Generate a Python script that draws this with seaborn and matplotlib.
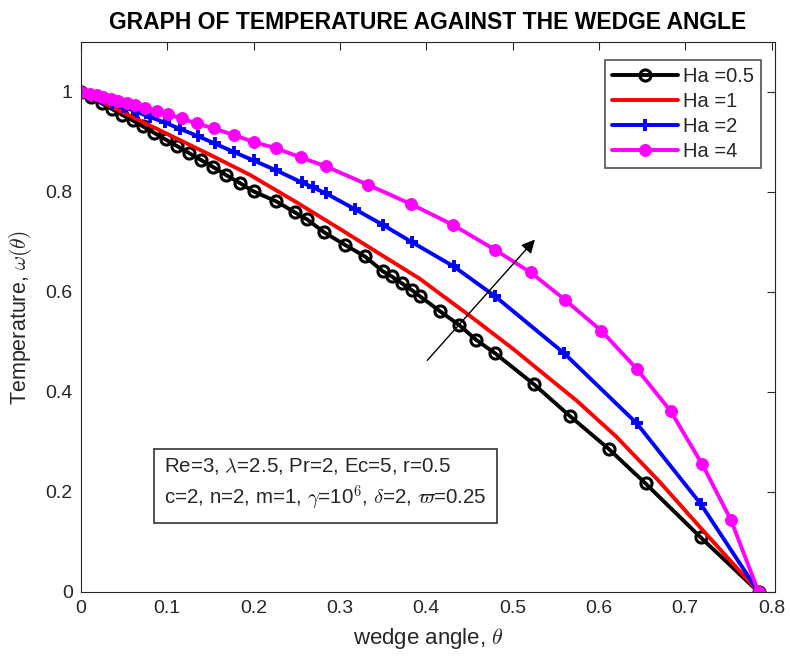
import matplotlib
matplotlib.use("Agg")
import matplotlib.pyplot as plt
import seaborn as sns

# values
theta_05 = [0, 0.012, 0.024, 0.036, 0.048, 0.060, 0.072, 0.085, 0.098, 0.111, 0.125,
            0.139, 0.153, 0.168, 0.184, 0.200, 0.2265, 0.248, 0.262, 0.282, 0.306,
            0.329, 0.350, 0.360, 0.372, 0.383, 0.393, 0.4155, 0.438, 0.458, 0.480,
            0.525, 0.567, 0.6115, 0.654, 0.718, 0.785]
temp_05 = [1.0, 0.989, 0.977, 0.966, 0.954, 0.943, 0.931, 0.918, 0.905, 0.892, 0.878,
           0.864, 0.850, 0.834, 0.818, 0.801, 0.781, 0.759, 0.745, 0.719, 0.694,
           0.671, 0.641, 0.631, 0.617, 0.604, 0.591, 0.562, 0.534, 0.504, 0.477,
           0.415, 0.351, 0.286, 0.217, 0.109, 0.0]

theta_1 = [0, 0.05, 0.10, 0.15, 0.196, 0.25, 0.30, 0.35, 0.392, 0.4155, 0.45, 0.50,
           0.554, 0.574, 0.62, 0.67, 0.718, 0.785]
temp_1 = [1.0, 0.958, 0.916, 0.874, 0.834, 0.779, 0.726, 0.672, 0.627, 0.597, 0.553,
          0.487, 0.411, 0.383, 0.311, 0.221, 0.128, 0.0]

theta_2 = [0, 0.012, 0.024, 0.036, 0.05, 0.065, 0.08, 0.097, 0.115, 0.135, 0.155,
           0.177, 0.200, 0.2265, 0.256, 0.269, 0.284, 0.318, 0.350, 0.383, 0.432,
           0.480, 0.560, 0.644, 0.718, 0.785]
temp_2 = [1.0, 0.993, 0.986, 0.978, 0.970, 0.960, 0.950, 0.939, 0.926, 0.912, 0.897,
          0.880, 0.863, 0.843, 0.819, 0.809, 0.797, 0.765, 0.734, 0.700, 0.651,
          0.591, 0.477, 0.337, 0.176, 0.0]

theta_4 = [0, 0.0104, 0.018, 0.026, 0.035, 0.043, 0.053, 0.0625, 0.074, 0.0876, 0.101,
           0.1165, 0.134, 0.154, 0.177, 0.200, 0.2265, 0.255, 0.284, 0.333, 0.382,
           0.431, 0.480, 0.521, 0.561, 0.603, 0.644, 0.683, 0.7195, 0.753, 0.785]
temp_4 = [1.0, 0.996, 0.993, 0.989, 0.985, 0.982, 0.977, 0.973, 0.968, 0.961, 0.955,
          0.947, 0.937, 0.927, 0.914, 0.900, 0.887, 0.869, 0.851, 0.814, 0.776,
          0.734, 0.684, 0.639, 0.584, 0.522, 0.446, 0.362, 0.256, 0.144, 0.0]

sns.set_style("white")
plt.rcParams['font.family'] = ['Liberation Sans', 'DejaVu Sans']
plt.rcParams['mathtext.fontset'] = 'cm'

fig = plt.figure(figsize=(7.9, 6.59), dpi=100)
ax = fig.add_axes([0.1025, 0.1017, 0.8785, 0.8346])

lw = 2.8
sns.lineplot(x=theta_05, y=temp_05, ax=ax, sort=False, color='black', lw=lw,
             marker='o', markersize=8, markerfacecolor='none', markeredgecolor='black',
             markeredgewidth=2.2, label='Ha =0.5')
sns.lineplot(x=theta_1, y=temp_1, ax=ax, sort=False, color='red', lw=lw, label='Ha =1')
sns.lineplot(x=theta_2, y=temp_2, ax=ax, sort=False, color='blue', lw=lw,
             marker='+', markersize=9, markeredgewidth=2.8, markeredgecolor='blue',
             label='Ha =2')
sns.lineplot(x=theta_4, y=temp_4, ax=ax, sort=False, color='magenta', lw=lw,
             marker='o', markersize=8.5, markeredgecolor='magenta', label='Ha =4')

# arrow showing increasing Ha
ax.annotate('', xy=(0.528, 0.709), xytext=(0.399, 0.459),
            arrowprops=dict(arrowstyle='-|>', color='black', lw=1.0,
                            mutation_scale=20))

ax.text(0.12, 0.248,
        r'Re=3, $\lambda$=2.5, Pr=2, Ec=5, r=0.5' + '\n' +
        r'c=2, n=2, m=1, $\gamma$=10$^6$, $\delta$=2, $\varpi$=0.25',
        transform=ax.transAxes, fontsize=14.8, va='top', ha='left', linespacing=1.4,
        color='#262626',
        bbox=dict(boxstyle='square,pad=0.5', facecolor='white', edgecolor='#333333', lw=1.2))

ax.set_xlim(0, 0.804)
ax.set_ylim(0, 1.1)
ax.set_xticks([0, 0.1, 0.2, 0.3, 0.4, 0.5, 0.6, 0.7, 0.8])
ax.set_xticklabels(['0', '0.1', '0.2', '0.3', '0.4', '0.5', '0.6', '0.7', '0.8'])
ax.set_yticks([0, 0.2, 0.4, 0.6, 0.8, 1])
ax.set_yticklabels(['0', '0.2', '0.4', '0.6', '0.8', '1'])
ax.tick_params(direction='in', top=True, right=True, length=6, width=0.8,
               labelsize=14, colors='#262626', pad=6)
for s in ax.spines.values():
    s.set_color('#262626')
    s.set_linewidth(0.8)

ax.set_xlabel(r'wedge angle, $\theta$', fontsize=16, color='#262626', labelpad=6)
ax.set_ylabel(r'Temperature, $\omega(\theta)$', fontsize=15.5, color='#262626', labelpad=8)
ax.set_title('GRAPH OF TEMPERATURE AGAINST THE WEDGE ANGLE', fontsize=16.5,
             fontweight='bold', pad=9, color='black')

leg = ax.legend(loc='upper right', fontsize=14.5, frameon=True, fancybox=False,
                edgecolor='#262626', handlelength=3.3, borderpad=0.35,
                labelspacing=0.3, handletextpad=0.2, borderaxespad=0.2,
                bbox_to_anchor=(0.985, 0.975))
leg.get_frame().set_linewidth(1.2)

fig.savefig('out.png', dpi=100)
